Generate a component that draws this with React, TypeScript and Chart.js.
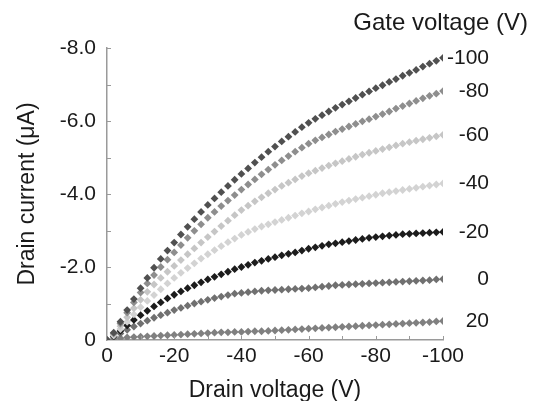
import React, { useEffect, useRef } from "react";
import { Chart, registerables } from "chart.js";

Chart.register(...registerables);

// Drain voltage (V) – x values of every point
const drainVoltage = [
  0, -2, -4, -6, -8, -10, -12, -14, -16, -18, -20, -22, -24, -26, -28, -30, -32, -34, -36, -38, -40,
  -42, -44, -46, -48, -50, -52, -54, -56, -58, -60, -62, -64, -66, -68, -70, -72, -74, -76, -78, -80,
  -82, -84, -86, -88, -90, -92, -94, -96, -98, -100,
];

// Gate voltages (series labels)
const gateVoltages = ["-100", "-80", "-60", "-40", "-20", "0", "20"];

// Drain current (µA) for each gate voltage
const currentVg_m100 = [
  0, -0.2, -0.5, -0.82, -1.12, -1.42, -1.7, -1.98, -2.22, -2.45, -2.67, -2.89, -3.1, -3.31, -3.51, -3.7,
  -3.88, -4.05, -4.22, -4.39, -4.55, -4.7, -4.86, -5.01, -5.16, -5.3, -5.44, -5.57, -5.7, -5.83, -5.95,
  -6.06, -6.16, -6.26, -6.36, -6.45, -6.54, -6.63, -6.72, -6.81, -6.9, -6.98, -7.07, -7.15, -7.24, -7.32,
  -7.4, -7.49, -7.57, -7.65, -7.73,
];
const currentVg_m80 = [
  0, -0.18, -0.45, -0.75, -1.03, -1.3, -1.55, -1.78, -2.0, -2.2, -2.4, -2.6, -2.8, -2.99, -3.17, -3.35,
  -3.51, -3.67, -3.82, -3.97, -4.12, -4.26, -4.4, -4.54, -4.67, -4.8, -4.92, -5.04, -5.16, -5.27, -5.38,
  -5.47, -5.55, -5.63, -5.71, -5.78, -5.85, -5.92, -5.99, -6.05, -6.12, -6.19, -6.26, -6.34, -6.41, -6.48,
  -6.55, -6.62, -6.69, -6.75, -6.82,
];
const currentVg_m60 = [
  0, -0.15, -0.38, -0.62, -0.87, -1.1, -1.32, -1.52, -1.7, -1.87, -2.03, -2.19, -2.35, -2.51, -2.67, -2.82,
  -2.97, -3.12, -3.27, -3.42, -3.56, -3.68, -3.8, -3.91, -4.02, -4.12, -4.22, -4.31, -4.4, -4.49, -4.57,
  -4.64, -4.71, -4.78, -4.84, -4.9, -4.96, -5.02, -5.08, -5.13, -5.18, -5.23, -5.28, -5.33, -5.38, -5.42,
  -5.46, -5.5, -5.54, -5.58, -5.62,
];
const currentVg_m40 = [
  0, -0.12, -0.3, -0.5, -0.7, -0.9, -1.07, -1.23, -1.39, -1.55, -1.7, -1.84, -1.97, -2.1, -2.23, -2.35,
  -2.46, -2.57, -2.68, -2.78, -2.88, -2.96, -3.04, -3.11, -3.17, -3.23, -3.29, -3.35, -3.41, -3.47, -3.52,
  -3.58, -3.63, -3.68, -3.73, -3.78, -3.82, -3.86, -3.9, -3.94, -3.98, -4.02, -4.05, -4.08, -4.11, -4.14,
  -4.17, -4.2, -4.23, -4.26, -4.29,
];
const currentVg_m20 = [
  0, -0.1, -0.25, -0.4, -0.55, -0.68, -0.8, -0.92, -1.03, -1.14, -1.24, -1.33, -1.42, -1.5, -1.58, -1.66,
  -1.73, -1.8, -1.87, -1.94, -2.0, -2.06, -2.12, -2.17, -2.22, -2.27, -2.32, -2.36, -2.4, -2.45, -2.5,
  -2.54, -2.58, -2.62, -2.65, -2.68, -2.71, -2.74, -2.77, -2.8, -2.82, -2.84, -2.86, -2.88, -2.9, -2.91,
  -2.92, -2.93, -2.94, -2.95, -2.96,
];
const currentVg_0 = [
  0, -0.08, -0.18, -0.28, -0.37, -0.45, -0.53, -0.61, -0.68, -0.75, -0.82, -0.88, -0.94, -1.0, -1.05, -1.1,
  -1.15, -1.19, -1.23, -1.27, -1.29, -1.31, -1.33, -1.35, -1.36, -1.37, -1.38, -1.39, -1.4, -1.41, -1.42,
  -1.44, -1.46, -1.48, -1.5, -1.51, -1.52, -1.53, -1.54, -1.55, -1.56, -1.57, -1.58, -1.59, -1.6, -1.61,
  -1.62, -1.63, -1.64, -1.66, -1.67,
];
const currentVg_20 = [
  0, -0.03, -0.05, -0.07, -0.08, -0.09, -0.1, -0.11, -0.12, -0.13, -0.14, -0.15, -0.16, -0.17, -0.18, -0.19,
  -0.2, -0.21, -0.21, -0.22, -0.22, -0.23, -0.24, -0.24, -0.25, -0.26, -0.27, -0.28, -0.29, -0.3, -0.31,
  -0.32, -0.33, -0.34, -0.35, -0.36, -0.37, -0.38, -0.39, -0.4, -0.41, -0.42, -0.43, -0.44, -0.45, -0.46,
  -0.47, -0.48, -0.49, -0.51, -0.52,
];

const seriesValues = [
  currentVg_m100,
  currentVg_m80,
  currentVg_m60,
  currentVg_m40,
  currentVg_m20,
  currentVg_0,
  currentVg_20,
];
const seriesColors = ["#505050", "#8e8e8e", "#c6c6c6", "#d3d3d3", "#1c1c1c", "#707070", "#808080"];

// Tick labels
const xTickLabels = ["0", "-20", "-40", "-60", "-80", "-100"];
const yTickLabels = ["0", "-2.0", "-4.0", "-6.0", "-8.0"];

const FONT = "'Liberation Sans', Arial, sans-serif";

const annotationsPlugin = {
  id: "annotations",
  afterDatasetsDraw(chart: any) {
    const { ctx, chartArea, scales } = chart;
    const xs = scales.x;
    const ys = scales.y;
    ctx.save();
    // inward minor tick marks
    ctx.strokeStyle = "#9a9a9a";
    ctx.lineWidth = 1;
    for (let v = -1; v >= -8; v--) {
      const py = Math.round(ys.getPixelForValue(v)) + 0.5;
      ctx.beginPath();
      ctx.moveTo(chartArea.left, py);
      ctx.lineTo(chartArea.left + 4, py);
      ctx.stroke();
    }
    for (let v = -10; v >= -100; v -= 10) {
      const px = Math.round(xs.getPixelForValue(v)) + 0.5;
      ctx.beginPath();
      ctx.moveTo(px, chartArea.bottom);
      ctx.lineTo(px, chartArea.bottom - 4);
      ctx.stroke();
    }
    // series labels
    ctx.fillStyle = "#1a1a1a";
    ctx.font = `21px ${FONT}`;
    ctx.textAlign = "right";
    ctx.textBaseline = "middle";
    chart.data.datasets.forEach((ds: any) => {
      const last = ds.data[ds.data.length - 1];
      const py = ys.getPixelForValue(last.y);
      ctx.fillText(ds.label, chartArea.right + 46, py);
    });
    // legend title
    ctx.font = `24px ${FONT}`;
    ctx.fillText("Gate voltage (V)", chart.width - 10, 23);
    ctx.restore();
  },
};

export default function App() {
  const canvasRef = useRef<HTMLCanvasElement | null>(null);

  useEffect(() => {
    if (!canvasRef.current) return;
    const datasets = gateVoltages.map((label, i) => ({
      label,
      data: drainVoltage.map((x, j) => ({ x, y: seriesValues[i][j] })),
      showLine: false,
      pointStyle: "rectRot" as const,
      pointRadius: 3.9,
      pointBorderWidth: 0,
      pointBackgroundColor: seriesColors[i],
      pointBorderColor: seriesColors[i],
      borderColor: seriesColors[i],
      backgroundColor: seriesColors[i],
    }));

    const chart = new Chart(canvasRef.current, {
      type: "scatter",
      data: { datasets },
      plugins: [annotationsPlugin],
      options: {
        animation: false,
        responsive: false,
        layout: { padding: { top: 48, right: 95, left: 0, bottom: 0 } },
        plugins: {
          legend: { display: false },
          tooltip: { enabled: false },
        },
        scales: {
          x: {
            type: "linear",
            min: -100,
            max: 0,
            reverse: true,
            afterFit: (scale: any) => {
              scale.height = 61;
            },
            grid: { display: false, drawTicks: false },
            border: { display: true, color: "#9a9a9a", width: 1.5 },
            ticks: {
              stepSize: 20,
              padding: 4,
              color: "#1a1a1a",
              font: { family: FONT, size: 21 },
              maxRotation: 0,
              callback: (value: any) => {
                const idx = xTickLabels.indexOf(String(value));
                return idx >= 0 ? xTickLabels[idx] : "";
              },
            },
            title: {
              display: true,
              text: "Drain voltage (V)",
              color: "#1a1a1a",
              font: { family: FONT, size: 23 },
              padding: { top: 0, bottom: -3 },
            },
          },
          y: {
            type: "linear",
            min: -8,
            max: 0,
            reverse: true,
            afterFit: (scale: any) => {
              scale.width = 107;
            },
            grid: { display: false, drawTicks: false },
            border: { display: true, color: "#9a9a9a", width: 1.5 },
            ticks: {
              stepSize: 2,
              padding: 11,
              color: "#1a1a1a",
              font: { family: FONT, size: 21 },
              callback: (value: any) => {
                const s = value === 0 ? "0" : Number(value).toFixed(1);
                return yTickLabels.includes(s) ? s : "";
              },
            },
            title: {
              display: true,
              text: "Drain current (μA)",
              color: "#1a1a1a",
              font: { family: FONT, size: 23 },
              padding: { top: 14, bottom: 0 },
            },
          },
        },
      },
    });
    return () => chart.destroy();
  }, []);

  return (
    <div style={{ position: "fixed", left: 0, top: 0, width: 538, height: 401, background: "#fff" }}>
      <canvas ref={canvasRef} width={538} height={401} />
    </div>
  );
}
